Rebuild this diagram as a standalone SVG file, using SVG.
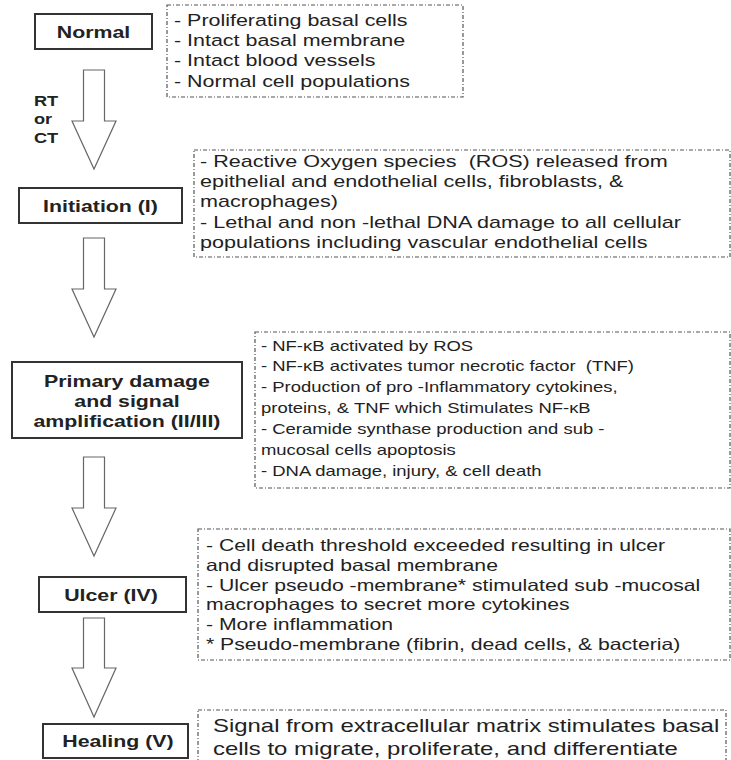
<svg xmlns="http://www.w3.org/2000/svg" width="731" height="760" viewBox="0 0 731 760">
<style>
.bg{fill:#ffffff}
.stage{fill:#ffffff;stroke:#333333;stroke-width:2}
.note{fill:#ffffff;stroke:#555555;stroke-width:1.2;stroke-dasharray:4 2 1 2}
.arrow{fill:#ffffff;stroke:#666666;stroke-width:1.2;stroke-linejoin:miter}
.lbl{font-family:"Liberation Sans",Arial,sans-serif;font-weight:bold;font-size:16.4px;fill:#222222;text-anchor:middle}
.rt{font-family:"Liberation Sans",Arial,sans-serif;font-weight:bold;font-size:14px;fill:#222222}
.txt{font-family:"Liberation Sans",Arial,sans-serif;fill:#222222}
</style>
<rect class="bg" x="0" y="0" width="731" height="760"/>

<g id="connectors">
  <polygon class="arrow" points="83.5,70 104.5,70 104.5,121 116,121 94,169 72,121 83.5,121"/>
  <polygon class="arrow" points="83.5,238 104.5,238 104.5,289 116,289 94,337 72,289 83.5,289"/>
  <polygon class="arrow" points="83.5,457 104.5,457 104.5,508 116,508 94,556 72,508 83.5,508"/>
  <polygon class="arrow" points="83.5,618 104.5,618 104.5,668 116,668 94,717 72,668 83.5,668"/>
  <g transform="scale(1.3,1)">
    <text class="rt" x="26.15" y="106">RT</text>
    <text class="rt" x="26.15" y="124.5">or</text>
    <text class="rt" x="26.15" y="143">CT</text>
  </g>
</g>

<g id="normal">
  <rect class="stage" x="35" y="14" width="117" height="35"/>
  <g transform="scale(1.3,1)"><text class="lbl" x="71.92" y="38.5">Normal</text></g>
</g>
<g id="normal-note">
  <rect class="note" x="167" y="5" width="296" height="92"/>
  <g transform="scale(1.3,1)" class="txt" font-size="16.5">
    <text x="133.85" y="26">- Proliferating basal cells</text>
    <text x="133.85" y="46">- Intact basal membrane</text>
    <text x="133.85" y="66.5">- Intact blood vessels</text>
    <text x="133.85" y="87">- Normal cell populations</text>
  </g>
</g>

<g id="initiation">
  <rect class="stage" x="19" y="188" width="163" height="35"/>
  <g transform="scale(1.3,1)"><text class="lbl" x="77.31" y="212">Initiation (I)</text></g>
</g>
<g id="initiation-note">
  <rect class="note" x="194" y="150" width="536" height="107"/>
  <g transform="scale(1.3,1)" class="txt" font-size="16.6">
    <text x="153.85" y="167" xml:space="preserve">- Reactive Oxygen species  (ROS) released from</text>
    <text x="153.85" y="187">epithelial and endothelial cells, fibroblasts, &amp;</text>
    <text x="153.85" y="207.5">macrophages)</text>
    <text x="153.85" y="228">- Lethal and non -lethal DNA damage to all cellular</text>
    <text x="153.85" y="248">populations including vascular endothelial cells</text>
  </g>
</g>

<g id="primary">
  <rect class="stage" x="12" y="362" width="230" height="76"/>
  <g transform="scale(1.3,1)">
    <text class="lbl" x="97.69" y="387">Primary damage</text>
    <text class="lbl" x="97.69" y="407">and signal</text>
    <text class="lbl" x="97.69" y="427">amplification (II/III)</text>
  </g>
</g>
<g id="primary-note">
  <rect class="note" x="255" y="332" width="475" height="156"/>
  <g transform="scale(1.3,1)" class="txt" font-size="14.2">
    <text x="200.77" y="351">- NF-κB activated by ROS</text>
    <text x="200.77" y="371.5" xml:space="preserve">- NF-κB activates tumor necrotic factor  (TNF)</text>
    <text x="200.77" y="392">- Production of pro -Inflammatory cytokines,</text>
    <text x="200.77" y="413">proteins, &amp; TNF which Stimulates NF-κB</text>
    <text x="200.77" y="434">- Ceramide synthase production and sub -</text>
    <text x="200.77" y="455">mucosal cells apoptosis</text>
    <text x="200.77" y="476">- DNA damage, injury, &amp; cell death</text>
  </g>
</g>

<g id="ulcer">
  <rect class="stage" x="39" y="577" width="147" height="35"/>
  <g transform="scale(1.3,1)"><text class="lbl" x="85.38" y="601">Ulcer (IV)</text></g>
</g>
<g id="ulcer-note">
  <rect class="note" x="198" y="529" width="532" height="131"/>
  <g transform="scale(1.3,1)" class="txt" font-size="16.3">
    <text x="158.46" y="551">- Cell death threshold exceeded resulting in ulcer</text>
    <text x="158.46" y="571">and disrupted basal membrane</text>
    <text x="158.46" y="591">- Ulcer pseudo -membrane* stimulated sub -mucosal</text>
    <text x="158.46" y="610">macrophages to secret more cytokines</text>
    <text x="158.46" y="630">- More inflammation</text>
    <text x="158.46" y="650">* Pseudo-membrane (fibrin, dead cells, &amp; bacteria)</text>
  </g>
</g>

<g id="healing">
  <rect class="stage" x="43" y="724" width="145" height="34"/>
  <g transform="scale(1.3,1)"><text class="lbl" x="90.77" y="747.5">Healing (V)</text></g>
</g>
<g id="healing-note">
  <rect class="note" x="198" y="710" width="528" height="70"/>
  <g transform="scale(1.3,1)" class="txt" font-size="18.4">
    <text x="163.85" y="732">Signal from extracellular matrix stimulates basal</text>
    <text x="163.85" y="755">cells to migrate, proliferate, and differentiate</text>
  </g>
</g>
</svg>
